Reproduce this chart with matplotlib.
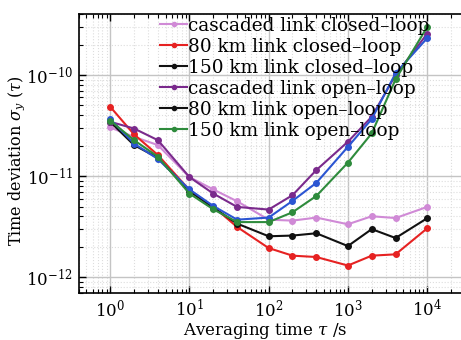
import matplotlib
matplotlib.use("Agg")
import matplotlib.pyplot as plt
from matplotlib.ticker import LogLocator, NullFormatter, FixedLocator

tau = [1, 2, 4, 10, 20, 40, 100, 200, 400, 1000, 2000, 4000, 10000]

labels = [
    "cascaded link closed\u2013loop",
    "80 km link closed\u2013loop",
    "150 km link closed\u2013loop",
    "cascaded link open\u2013loop",
    "80 km link open\u2013loop",
    "150 km link open\u2013loop",
]

casc_closed = [3.03e-11, 2.45e-11, 2.03e-11, 9.8e-12, 7.4e-12, 5.65e-12, 3.72e-12, 3.64e-12, 3.9e-12, 3.35e-12, 4.02e-12, 3.86e-12, 4.97e-12]
km80_closed = [4.86e-11, 2.59e-11, 1.62e-11, 7.3e-12, 5.0e-12, 3.15e-12, 1.95e-12, 1.64e-12, 1.59e-12, 1.31e-12, 1.64e-12, 1.69e-12, 3.05e-12]
km150_closed = [3.45e-11, 2.03e-11, 1.52e-11, 7.1e-12, 4.9e-12, 3.4e-12, 2.55e-12, 2.59e-12, 2.73e-12, 2.04e-12, 3.0e-12, 2.45e-12, 3.84e-12]
casc_open = [3.45e-11, 2.96e-11, 2.27e-11, 9.8e-12, 6.74e-12, 4.97e-12, 4.68e-12, 6.49e-12, 1.15e-11, 2.19e-11, 3.87e-11, 1.0e-10, 2.55e-10]
km80_open = [3.67e-11, 2.1e-11, 1.48e-11, 7.4e-12, 5.08e-12, 3.72e-12, 3.9e-12, 5.7e-12, 8.6e-12, 1.95e-11, 3.67e-11, 1.04e-10, 2.31e-10]
km150_open = [3.55e-11, 2.27e-11, 1.56e-11, 6.74e-12, 4.71e-12, 3.52e-12, 3.52e-12, 4.4e-12, 6.38e-12, 1.36e-11, 2.65e-11, 9.06e-11, 2.97e-10]

x_major = [1, 10, 100, 1000, 10000]
y_major = [1e-12, 1e-11, 1e-10]

series = [casc_closed, km80_closed, km150_closed, casc_open, km80_open, km150_open]
colors = ["#d08ad6", "#e62222", "#111111", "#7a2a8c", "#2b55d2", "#2e8b3c"]
legend_colors = ["#d08ad6", "#e62222", "#111111", "#7a2a8c", "#111111", "#2e8b3c"]

plt.rcParams["font.family"] = ["DejaVu Serif"]
plt.rcParams["mathtext.fontset"] = "dejavuserif"

fig = plt.figure(figsize=(4.61, 3.40), dpi=100)
ax = fig.add_axes([0.1706, 0.138, 0.845, 0.8206])

for ys, c, lab in zip(series, colors, labels):
    ax.plot(tau, ys, "-o", color=c, lw=1.5, ms=4, label=lab)

ax.set_xscale("log")
ax.set_yscale("log")
ax.set_xlim(0.4, 3.3e4)
ax.set_ylim(7e-13, 4e-10)

ax.xaxis.set_major_locator(FixedLocator(x_major))
ax.xaxis.set_minor_locator(LogLocator(base=10, subs=range(2, 10), numticks=20))
ax.yaxis.set_major_locator(FixedLocator(y_major))
ax.yaxis.set_minor_locator(LogLocator(base=10, subs=range(2, 10), numticks=20))
ax.xaxis.set_minor_formatter(NullFormatter())
ax.yaxis.set_minor_formatter(NullFormatter())

ax.tick_params(which="both", direction="in", top=True, right=True, labelsize=12)
ax.tick_params(which="major", length=5, width=1, pad=4)
ax.tick_params(which="minor", length=3, width=0.8)

ax.grid(True, which="major", color="#c4c4c4", lw=1.0, ls="-")
ax.grid(True, which="minor", color="#dddddd", lw=0.8, ls=":")
ax.set_axisbelow(True)
for s in ax.spines.values():
    s.set_linewidth(1.2)

ax.set_xlabel(r"Averaging time $\tau$ /s", fontsize=12)
ax.xaxis.set_label_coords(0.479, -0.1)
ax.set_ylabel(r"Time deviation $\sigma_y\ (\tau)$", fontsize=11.5)
ax.yaxis.set_label_coords(-0.133, 0.473)

leg = ax.legend(loc="upper left", bbox_to_anchor=(0.209, 0.99), frameon=False,
                fontsize=13.3, handlelength=1.46, handletextpad=0.05,
                labelspacing=0.16, borderaxespad=0.0, borderpad=0.0)
for h, c in zip(leg.legend_handles, legend_colors):
    h.set_color(c)
    h.set_markersize(3)

fig.savefig("out.png", dpi=100)
